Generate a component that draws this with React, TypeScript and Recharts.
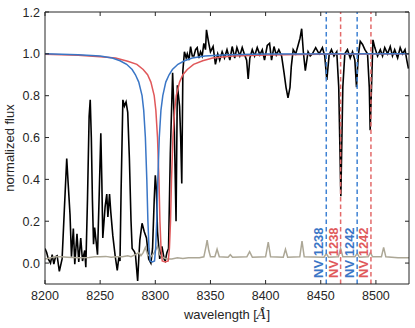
import { LineChart, Line, XAxis, YAxis, ReferenceLine } from 'recharts';

// observed spectrum (black)
const specWave = [
  8200, 8201.5, 8203, 8205, 8206.5, 8208, 8209.5, 8211, 8213, 8215.5, 8217.5, 8219.7, 8221, 8222.7, 8224, 8225.7,
  8227, 8229, 8230.6, 8232.4, 8234, 8236, 8237, 8238.5, 8240, 8241, 8242, 8243, 8244, 8245, 8247.6, 8249,
  8250.6, 8251.5, 8252.4, 8254.5, 8256, 8257, 8258.5, 8259.7, 8261.5, 8263.6, 8265.5, 8267, 8268, 8269, 8270.6, 8272,
  8273.5, 8275, 8276.5, 8278, 8279, 8281, 8282, 8284, 8285, 8286, 8288, 8289, 8290, 8292, 8294, 8296,
  8297.5, 8299, 8300, 8301, 8302, 8304, 8306, 8308, 8309, 8310.5, 8312, 8313.6, 8315.7, 8317, 8318.8, 8320,
  8321, 8322, 8323, 8324, 8325, 8326.4, 8328, 8329, 8330.5, 8332, 8333.5, 8335, 8336.5, 8338, 8339.5, 8341,
  8342.5, 8344, 8345.5, 8346.4, 8347.5, 8348.5, 8350, 8352.4, 8354.5, 8356.6, 8358.4, 8360.6, 8362.7, 8365, 8367.6, 8369.7,
  8372, 8374, 8376.6, 8378.8, 8381, 8382.8, 8384.2, 8385.7, 8387.9, 8390, 8392.4, 8394.8, 8397, 8399, 8401.5, 8403.6,
  8405.4, 8407.6, 8409.7, 8412, 8414.5, 8416.7, 8418.5, 8420.3, 8422.1, 8423.3, 8425, 8427.3, 8429.4, 8431.2, 8432.7, 8434.2,
  8436, 8438.5, 8440.5, 8442.4, 8445.4, 8448.5, 8451.5, 8453.6, 8455.5, 8457.6, 8459.7, 8462, 8464.5, 8466.3, 8468.2, 8470,
  8471.8, 8474.2, 8476.7, 8478.8, 8480.9, 8482.4, 8484, 8485.8, 8487.9, 8490, 8492.4, 8494, 8494.8, 8496, 8497.3, 8499,
  8501.5, 8504, 8506, 8508, 8510.6, 8513, 8515, 8517, 8519.7, 8522, 8524.2, 8526.4, 8528, 8529.5,
];
const specFlux = [
  0.07, 0.05, 0.02, 0.0, 0.04, -0.005, 0.03, 0.035, -0.04, 0.02, 0.25, 0.5, 0.38, 0.23, 0.03, 0.165,
  -0.005, 0.14, 0.005, 0.12, 0.01, 0.06, -0.02, 0.3, 0.7, 0.78, 0.6, 0.3, 0.09, 0.17, 0.04, 0.3,
  0.62, 0.4, 0.12, 0.27, 0.33, 0.22, 0.33, 0.24, 0.13, 0.035, -0.035, 0.03, 0.01, 0.35, 0.78, 0.75,
  0.77, 0.72, 0.5, 0.2, 0.07, 0.055, 0.04, -0.085, 0.02, 0.11, 0.19, 0.17, 0.15, 0.12, 0.02, 0.0,
  0.07, 0.3, 0.42, 0.35, 0.15, 0.02, 0.08, 0.02, 0.01, 0.05, 0.07, 0.52, 0.91, 0.71, 0.2, 0.85,
  0.8, 0.75, 0.6, 0.38, 0.92, 1.01, 0.98, 1.0, 0.97, 1.035, 0.99, 0.99, 1.02, 1.03, 0.98, 1.01,
  0.99, 1.05, 1.02, 1.115, 1.08, 1.05, 1.01, 1.035, 0.95, 1.0, 0.97, 1.01, 0.98, 1.02, 0.97, 1.035,
  0.98, 1.03, 0.99, 1.03, 0.995, 0.97, 0.88, 0.98, 1.02, 0.99, 1.03, 0.995, 1.02, 0.97, 1.04, 1.05,
  0.97, 1.035, 0.995, 1.02, 0.99, 0.91, 0.84, 0.79, 0.84, 0.94, 1.02, 1.0, 1.04, 1.075, 1.12, 1.01,
  0.92, 1.01, 0.99, 1.0, 1.03, 1.0, 1.03, 0.99, 0.875, 0.995, 1.02, 0.99, 1.01, 0.84, 0.32, 0.84,
  1.0, 1.02, 0.98, 1.01, 0.97, 0.84, 0.99, 1.06, 1.045, 1.02, 1.0, 0.84, 0.635, 0.84, 1.067, 1.03,
  0.99, 1.02, 0.99, 1.03, 1.0, 1.035, 0.99, 1.02, 0.98, 1.03, 1.0, 1.02, 0.97, 0.93,
];

// error spectrum (grey)
const errWave = [
  8200, 8205, 8210, 8215, 8220, 8230, 8240, 8245, 8250, 8255, 8260, 8265, 8270, 8275, 8278, 8282,
  8285, 8287, 8289, 8291, 8293, 8296, 8299, 8302, 8304, 8306, 8310, 8315, 8320, 8325, 8330, 8340,
  8344, 8346, 8347, 8348.5, 8350, 8354, 8356, 8358, 8366, 8368, 8370, 8383, 8385.5, 8388, 8400, 8402.4,
  8404.5, 8416, 8418, 8420, 8431, 8433, 8435, 8453, 8455, 8457, 8466, 8468, 8470, 8481, 8483, 8485,
  8493, 8495, 8497, 8505, 8507, 8509, 8520, 8530,
];
const errFlux = [
  0.02, 0.025, 0.03, 0.03, 0.028, 0.025, 0.027, 0.03, 0.03, 0.032, 0.028, 0.03, 0.03, 0.035, 0.03, 0.04,
  0.05, 0.035, 0.05, 0.075, 0.04, 0.03, 0.05, 0.08, 0.04, 0.03, 0.02, 0.02, 0.025, 0.022, 0.025, 0.025,
  0.03, 0.08, 0.11, 0.06, 0.03, 0.03, 0.066, 0.03, 0.028, 0.04, 0.028, 0.03, 0.055, 0.028, 0.03, 0.1,
  0.03, 0.028, 0.066, 0.028, 0.03, 0.105, 0.03, 0.028, 0.045, 0.028, 0.03, 0.07, 0.03, 0.03, 0.045, 0.028,
  0.03, 0.05, 0.03, 0.03, 0.075, 0.03, 0.025, 0.025,
];

// absorption profile, blue
const blueWave = [
  8200, 8230, 8250, 8261, 8268, 8274, 8279, 8282, 8285, 8288, 8289.5, 8291, 8292.3, 8293.3, 8294.3, 8295.3,
  8297.3, 8299.3, 8300.3, 8301.3, 8302.3, 8303.6, 8305.1, 8306.8, 8309.5, 8312.5, 8315.5, 8320.5, 8326.5, 8333.5, 8345, 8365,
  8400, 8530,
];
const blueFlux = [
  1.0, 0.996, 0.99, 0.98, 0.967, 0.95, 0.925, 0.9, 0.865, 0.8, 0.73, 0.6, 0.4, 0.2, 0.07, 0.01,
  0.005, 0.01, 0.07, 0.2, 0.4, 0.6, 0.73, 0.8, 0.865, 0.9, 0.925, 0.95, 0.967, 0.98, 0.99, 0.996,
  0.999, 1.0,
];

// absorption profile, red
const redWave = [
  8200, 8230, 8250, 8264, 8275, 8283.3, 8289, 8293, 8296, 8299, 8300.5, 8302, 8303.3, 8304.2, 8305.2, 8306.3,
  8309, 8311.7, 8312.8, 8313.8, 8314.7, 8316, 8317.5, 8319, 8322, 8325, 8329, 8334.7, 8343, 8352, 8370, 8400,
  8450, 8530,
];
const redFlux = [
  0.998, 0.993, 0.986, 0.98, 0.965, 0.95, 0.925, 0.9, 0.865, 0.8, 0.73, 0.6, 0.4, 0.2, 0.07, 0.01,
  0.005, 0.01, 0.07, 0.2, 0.4, 0.6, 0.73, 0.8, 0.865, 0.9, 0.925, 0.95, 0.967, 0.98, 0.99, 0.995,
  0.998, 1.0,
];

const xTicks = [8200, 8250, 8300, 8350, 8400, 8450, 8500];
const yTicks = [0, 0.2, 0.4, 0.6, 0.8, 1.0, 1.2];

const lineMarks = [
  { wave: 8455, text: 'NV 1238', color: 'blue' },
  { wave: 8468, text: 'NV 1238', color: 'red' },
  { wave: 8483, text: 'NV 1242', color: 'blue' },
  { wave: 8495.5, text: 'NV 1242', color: 'red' },
];

const FONT = '"Liberation Sans", Arial, Helvetica, sans-serif';
const INK = '#262626';
const BLUE = '#3a76c6';
const RED = '#e0585a';
const BLUE_DASH = '#3f82d4';
const RED_DASH = '#e26a6a';
const GREY = '#aca796';

const zip = (w: number[], f: number[]) => w.map((x, i) => ({ w: x, f: f[i] }));

const spectrum = zip(specWave, specFlux);
const errors = zip(errWave, errFlux);
const blueModel = zip(blueWave, blueFlux);
const redModel = zip(redWave, redFlux);

function BottomTick({ x, y, payload }: any) {
  return (
    <g>
      <line x1={x} x2={x} y1={y} y2={y - 4} stroke={INK} />
      <text x={x} y={y + 16} textAnchor="middle" fill={INK} fontSize={12.5} fontFamily={FONT}>
        {payload.value}
      </text>
    </g>
  );
}

function LeftTick({ x, y, payload }: any) {
  return (
    <g>
      <line x1={x} x2={x + 4} y1={y} y2={y} stroke={INK} />
      <text x={x - 5} y={y + 4.5} textAnchor="end" fill={INK} fontSize={12.5} fontFamily={FONT}>
        {payload.value.toFixed(1)}
      </text>
    </g>
  );
}

function TopTick({ x, y }: any) {
  return <line x1={x} x2={x} y1={y} y2={y + 4} stroke={INK} />;
}

function RightTick({ x, y }: any) {
  return <line x1={x} x2={x - 4} y1={y} y2={y} stroke={INK} />;
}

const yLabel = () => (
  <text x={14} y={148} transform="rotate(-90 14 148)" textAnchor="middle" fill={INK} fontSize={13} fontFamily={FONT}>
    normalized flux
  </text>
);

const xLabel = () => (
  <text x={227} y={319} textAnchor="middle" fill={INK} fontSize={13} fontFamily={FONT}>
    wavelength [<tspan fontStyle="italic" fontFamily="DejaVu Serif, serif">Å</tspan>]
  </text>
);

const markLabel = (text: string, color: string) => (props: any) => {
  const { x, y, height } = props.viewBox;
  const bx = x - 3;
  const by = y + height - 6;
  return (
    <text
      x={bx}
      y={by}
      transform={`rotate(-90 ${bx} ${by})`}
      fill={color}
      fontSize={13}
      fontWeight="bold"
      fontFamily={FONT}
    >
      {text}
    </text>
  );
};

export default function App() {
  return (
    <div style={{ position: 'absolute', left: 0, top: 0, width: 415, height: 328, background: '#fff' }}>
      <LineChart width={415} height={328} margin={{ top: 11, right: 5, bottom: 0, left: 0 }}>
        <XAxis
          dataKey="w"
          type="number"
          domain={[8200, 8530]}
          ticks={xTicks}
          allowDataOverflow
          height={44}
          tickSize={0}
          tickMargin={0}
          tickLine={false}
          tick={<BottomTick />}
          axisLine={{ stroke: INK }}
          label={xLabel}
        />
        <XAxis
          xAxisId="t"
          orientation="top"
          dataKey="w"
          type="number"
          domain={[8200, 8530]}
          ticks={xTicks}
          allowDataOverflow
          height={1}
          tickSize={0}
          tickMargin={0}
          tickLine={false}
          tick={<TopTick />}
          axisLine={{ stroke: INK }}
        />
        <YAxis
          type="number"
          domain={[-0.1, 1.2]}
          ticks={yTicks}
          allowDataOverflow
          width={45}
          tickSize={0}
          tickMargin={0}
          tickLine={false}
          tick={<LeftTick />}
          axisLine={{ stroke: INK }}
          label={yLabel}
        />
        <YAxis
          yAxisId="r"
          orientation="right"
          type="number"
          domain={[-0.1, 1.2]}
          ticks={yTicks}
          allowDataOverflow
          width={1}
          tickSize={0}
          tickMargin={0}
          tickLine={false}
          tick={<RightTick />}
          axisLine={{ stroke: INK }}
        />
        <Line data={spectrum} dataKey="f" stroke="#000" strokeWidth={1.6} dot={false} isAnimationActive={false} />
        <Line
          data={errors}
          dataKey="f"
          xAxisId="t"
          yAxisId="r"
          stroke={GREY}
          strokeWidth={1.5}
          dot={false}
          isAnimationActive={false}
        />
        <Line data={redModel} dataKey="f" stroke={RED} strokeWidth={1.5} dot={false} isAnimationActive={false} />
        <Line data={blueModel} dataKey="f" stroke={BLUE} strokeWidth={1.5} dot={false} isAnimationActive={false} />
        {lineMarks.map((m) => (
          <ReferenceLine
            key={m.wave}
            x={m.wave}
            stroke={m.color === 'blue' ? BLUE_DASH : RED_DASH}
            strokeWidth={1.5}
            strokeDasharray="4.5 3"
            label={markLabel(m.text, m.color === 'blue' ? BLUE : RED)}
          />
        ))}
      </LineChart>
    </div>
  );
}
